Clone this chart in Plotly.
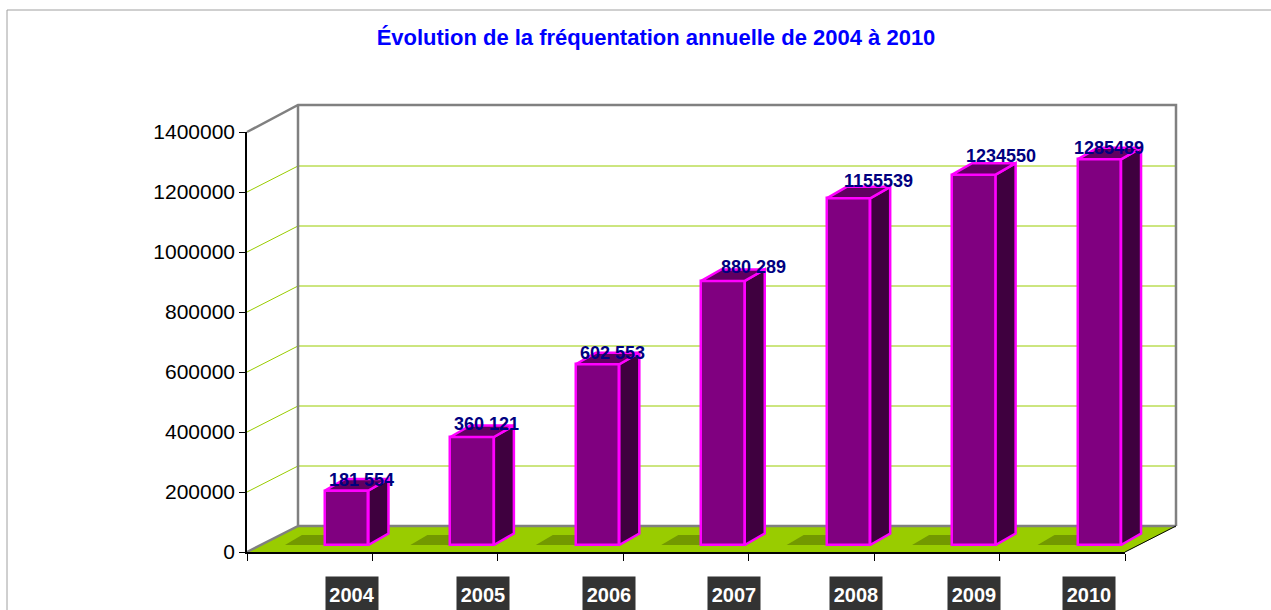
import plotly.graph_objects as go

YEARS = ["2004", "2005", "2006", "2007", "2008", "2009", "2010"]
VALUES = [181554, 360121, 602553, 880289, 1155539, 1234550, 1285489]
VALUE_LABELS = ["181 554", "360 121", "602 553", "880 289", "1155539", "1234550", "1285489"]
Y_TICKS = [0, 200000, 400000, 600000, 800000, 1000000, 1200000, 1400000]
TITLE = "Évolution de la fréquentation annuelle de 2004 à 2010"

W, H = 1271, 610
LEFT, RIGHT, TOP, BOTTOM = 247, 1125, 132, 552
YMAX = 1400000
PX_X = len(YEARS) / (RIGHT - LEFT)
PX_Y = YMAX / (BOTTOM - TOP)
def dx(p): return p * PX_X
def dy(p): return p * PX_Y

DEPTH_PX_X, DEPTH_PX_Y = 51, 26
DEPTH_X, DEPTH_Y = dx(DEPTH_PX_X), dy(DEPTH_PX_Y)
PAD = 6
BAR_W = dx(43.5)
BAR_SHIFT = dx(37)
BAR_BASE = dy(7)
SIDE_X, SIDE_Y = dx(20), dy(11.5)
n = len(YEARS)

LABEL_DX = [15, 14, 15, 30, 30, 27, 10]
LABEL_DY = [10.5, 13, 11, 14, 17, 19, 11]
YEAR_DX = [42, 48, 48, 48, 45, 37, 27]

GRAY = "#808080"
GREEN = "#99cc00"
SHADOW = "#739900"
MAGENTA = "#ff00ff"
PURPLE = "#800080"
SIDE = "#3f003f"
TOPC = "#600060"

fig = go.Figure()

def line(xs, ys, color, width, axes=1, fill=None, fillcolor=None):
    suffix = "" if axes == 1 else str(axes)
    fig.add_trace(go.Scatter(x=xs, y=ys, mode="lines", line=dict(color=color, width=width),
                             fill=fill, fillcolor=fillcolor,
                             xaxis="x" + suffix, yaxis="y" + suffix,
                             showlegend=False, hoverinfo="skip"))

# floor
line([0, n, n + DEPTH_X, DEPTH_X, 0], [0, 0, DEPTH_Y, DEPTH_Y, 0], GREEN, 0.5, fill="toself", fillcolor=GREEN)
# gridlines on both walls
for t in Y_TICKS[1:-1]:
    line([0, DEPTH_X, n + DEPTH_X], [t, t + DEPTH_Y, t + DEPTH_Y], GREEN, 1)
# walls
line([0, DEPTH_X, DEPTH_X], [0, DEPTH_Y, YMAX + dy(27)], GRAY, 2.5)
line([0, DEPTH_X, n + DEPTH_X, n + DEPTH_X], [YMAX, YMAX + dy(27), YMAX + dy(27), DEPTH_Y], GRAY, 2.5)
line([DEPTH_X, n + DEPTH_X], [DEPTH_Y, DEPTH_Y], GRAY, 2.5)
line([n, n + DEPTH_X], [0, DEPTH_Y], "#000000", 1)

centers = [i + 0.5 + BAR_SHIFT for i in range(n)]
# floor shadows
for c in centers:
    l = c - BAR_W / 2 - dx(40)
    r = l + BAR_W
    line([l, r, r + dx(17), l + dx(17), l], [BAR_BASE, BAR_BASE, BAR_BASE + dy(10), BAR_BASE + dy(10), BAR_BASE],
         SHADOW, 0, fill="toself", fillcolor=SHADOW)

# front faces
fig.add_trace(go.Bar(x=centers, y=VALUES, base=[BAR_BASE] * n, width=[BAR_W] * n,
                     marker=dict(color=PURPLE, line=dict(color=MAGENTA, width=2.5)),
                     xaxis="x2", yaxis="y2", showlegend=False,
                     customdata=YEARS, hovertemplate="%{customdata}: %{y}<extra></extra>"))
# side and top faces
for c, v in zip(centers, VALUES):
    r = c + BAR_W / 2
    l = c - BAR_W / 2
    t = BAR_BASE + v
    line([r, r + SIDE_X, r + SIDE_X, r, r], [BAR_BASE, BAR_BASE + SIDE_Y, t + SIDE_Y, t, BAR_BASE],
         MAGENTA, 2.5, axes=2, fill="toself", fillcolor=SIDE)
    line([l, r, r + SIDE_X, l + SIDE_X, l], [t, t, t + SIDE_Y, t + SIDE_Y, t],
         MAGENTA, 2.5, axes=2, fill="toself", fillcolor=TOPC)

# hidden trace that keeps the visible tick axes alive
fig.add_trace(go.Scatter(x=[i + 0.5 for i in range(n)], y=VALUES, mode="markers", marker=dict(opacity=0),
                         xaxis="x3", yaxis="y3", showlegend=False, hoverinfo="skip"))

annotations = []
for c, v, s, ox, oy in zip(centers, VALUES, VALUE_LABELS, LABEL_DX, LABEL_DY):
    annotations.append(dict(x=c, y=BAR_BASE + v, xref="x3", yref="y3", text="<b>%s</b>" % s, showarrow=False,
                            xshift=ox, yshift=oy, xanchor="center", yanchor="middle",
                            font=dict(family="Liberation Sans", size=18, color="#000080")))
for i, (yr, ox) in enumerate(zip(YEARS, YEAR_DX)):
    annotations.append(dict(x=i + 0.5, y=0, xref="x3", yref="y3", text="<b>%s</b>" % yr, showarrow=False,
                            xshift=ox, yshift=-43, xanchor="center", yanchor="middle",
                            bgcolor="#333333", width=50, height=34,
                            font=dict(family="Liberation Sans", size=20, color="#ffffff")))

xdom = [LEFT / W, RIGHT / W]
ydom = [(H - BOTTOM) / H, (H - TOP) / H]
xdom_ext = [(LEFT - PAD) / W, (RIGHT + DEPTH_PX_X + PAD) / W]
ydom_ext = [(H - BOTTOM - PAD) / H, (H - TOP + 27 + PAD) / H]
xrange_ext = [-dx(PAD), n + dx(DEPTH_PX_X + PAD)]
yrange_ext = [-dy(PAD), YMAX + dy(27 + PAD)]

def hidden(anchor, dom, rng):
    return dict(domain=dom, range=rng, anchor=anchor, visible=False, automargin=False)

fig.update_layout(
    width=W, height=H, autosize=False,
    template="none",
    margin=dict(l=0, r=0, t=0, b=0),
    paper_bgcolor="#ffffff", plot_bgcolor="rgba(0,0,0,0)",
    showlegend=False,
    bargap=0,
    title=dict(text="<b>%s</b>" % TITLE, x=656 / W, xanchor="center", y=1 - 37 / H, yanchor="middle",
               font=dict(family="Liberation Sans", size=22, color="#0000ff")),
    font=dict(family="Liberation Sans", color="#000000"),
    xaxis=hidden("y", xdom_ext, xrange_ext),
    yaxis=hidden("x", ydom_ext, yrange_ext),
    xaxis2=hidden("y2", xdom_ext, xrange_ext),
    yaxis2=hidden("x2", ydom_ext, yrange_ext),
    xaxis3=dict(domain=xdom, range=[0, n], anchor="y3", tickvals=list(range(n + 1)), showticklabels=False,
                ticks="outside", ticklen=7, tickcolor="#000000", tickwidth=1, showgrid=False, zeroline=False,
                showline=True, linecolor="#000000", linewidth=1.5, automargin=False),
    yaxis3=dict(domain=ydom, range=[0, YMAX], anchor="x3", tickvals=Y_TICKS, ticktext=[str(t) for t in Y_TICKS],
                ticks="outside", ticklen=6, tickcolor="#000000", tickwidth=1, showgrid=False, zeroline=False,
                showline=True, linecolor="#000000", linewidth=1.5, tickfont=dict(size=21, color="#000000"),
                automargin=False),
    annotations=annotations,
    shapes=[
        dict(type="line", xref="paper", yref="paper", x0=7 / W, x1=1, y0=1 - 10 / H, y1=1 - 10 / H,
             line=dict(color="#a0a0a0", width=1)),
        dict(type="line", xref="paper", yref="paper", x0=7 / W, x1=7 / W, y0=0, y1=1 - 10 / H,
             line=dict(color="#a0a0a0", width=1)),
    ],
)
fig.write_html("out.html", config={"displayModeBar": False},
               post_script="document.body.style.margin='0';document.documentElement.style.overflow='hidden';")
